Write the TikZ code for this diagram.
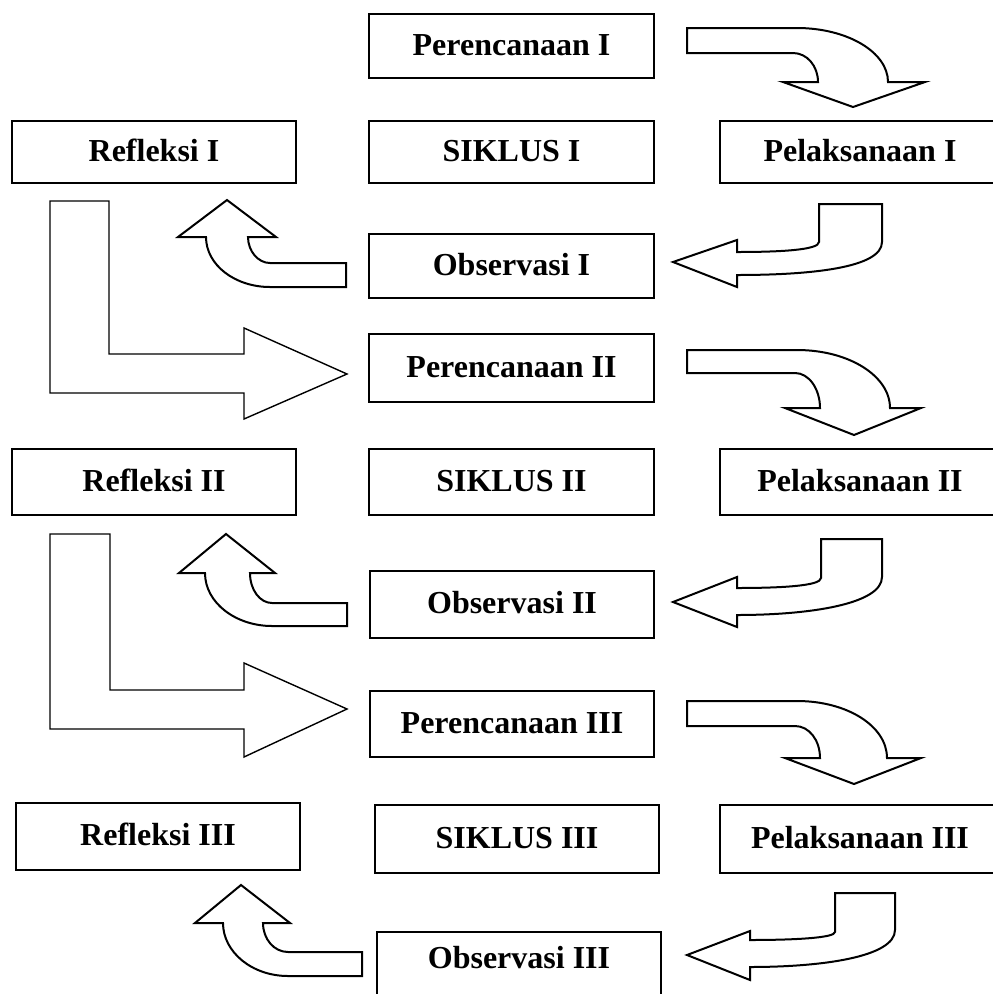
\documentclass[tikz,border=0pt]{standalone}
\usepackage{fontspec}
\setmainfont{Liberation Serif}
\begin{document}
\begin{tikzpicture}[x=1pt,y=-1pt,
  box/.style={draw=black, line width=2pt, inner sep=0pt, anchor=north west,
    font=\fontsize{32}{38}\selectfont\bfseries, text height=21pt, text depth=3pt, align=center},
  blockarrow/.style={draw=black, line width=2pt, fill=white, line join=miter},
  larrow/.style={draw=black, line width=1.4pt, fill=white, line join=miter}]
\useasboundingbox (0,0) rectangle (993,994);
\clip (0,0) rectangle (993,994);
\fill[white] (0,0) rectangle (993,994);

% ---------- Cycle I ----------
\node[box, minimum width=285pt, minimum height=64pt] (per1) at (368,13) {Perencanaan I};
\node[box, minimum width=284pt, minimum height=62pt] (ref1) at (11,120) {Refleksi I};
\node[box, minimum width=285pt, minimum height=62pt] (sik1) at (368,120) {SIKLUS I};
\node[box, minimum width=280pt, minimum height=62pt] (pel1) at (719,120) {Pelaksanaan I};
\node[box, minimum width=285pt, minimum height=64pt] (obs1) at (368,233) {Observasi I};

% down-curved arrow (Perencanaan -> Pelaksanaan)
\draw[blockarrow] (687,28) -- (797,28) .. controls (847,28) and (888,52) .. (888,82)
  -- (925,82) -- (853,107) -- (783,82) -- (818,82)
  .. controls (818,66) and (807,53) .. (793,53) -- (687,53) -- cycle;
% left arrow (Pelaksanaan -> Observasi)
\draw[blockarrow] (819,204) -- (882,204) -- (882,242)
  .. controls (882,268) and (810,275) .. (737,275) -- (737,287) -- (673,262)
  -- (737,240) -- (737,252) .. controls (780,252) and (819,250) .. (819,242) -- cycle;
% up-left arrow (Observasi -> Refleksi)
\draw[blockarrow] (346,263) -- (270,263) .. controls (258,263) and (248,251) .. (248,237)
  -- (276,237) -- (227,200) -- (178,237) -- (206,237)
  .. controls (206,265) and (235,287) .. (270,287) -- (346,287) -- cycle;
% L arrow (Refleksi -> next Perencanaan)
\draw[larrow] (50,201) -- (109,201) -- (109,354) -- (244,354) -- (244,328)
  -- (347,374) -- (244,419) -- (244,393) -- (50,393) -- cycle;

% ---------- Cycle II ----------
\node[box, minimum width=285pt, minimum height=68pt] (per2) at (368,333) {Perencanaan II};
\node[box, minimum width=284pt, minimum height=66pt] (ref2) at (11,448) {Refleksi II};
\node[box, minimum width=285pt, minimum height=66pt] (sik2) at (368,448) {SIKLUS II};
\node[box, minimum width=280pt, minimum height=66pt] (pel2) at (719,448) {Pelaksanaan II};
\node[box, minimum width=284pt, minimum height=67pt] (obs2) at (369,570) {Observasi II};

\draw[blockarrow] (687,350) -- (797,350) .. controls (849,350) and (890,376) .. (890,408)
  -- (921,408) -- (854,435) -- (785,408) -- (820,408)
  .. controls (820,389) and (809,373) .. (795,373) -- (687,373) -- cycle;
\draw[blockarrow] (821,539) -- (882,539) -- (882,577)
  .. controls (882,604) and (810,615) .. (737,615) -- (737,627) -- (673,602)
  -- (737,577) -- (737,588) .. controls (780,588) and (821,586) .. (821,578) -- cycle;
\draw[blockarrow] (347,603) -- (272,603) .. controls (260,603) and (250,590) .. (250,573)
  -- (275,573) -- (226,534) -- (179,573) -- (205,573)
  .. controls (205,603) and (236,626) .. (272,626) -- (347,626) -- cycle;
\draw[larrow] (50,534) -- (110,534) -- (110,690) -- (244,690) -- (244,663)
  -- (347,709) -- (244,757) -- (244,729) -- (50,729) -- cycle;

% ---------- Cycle III ----------
\node[box, minimum width=284pt, minimum height=66pt] (per3) at (369,690) {Perencanaan III};
\node[box, minimum width=284pt, minimum height=67pt] (ref3) at (15,802) {Refleksi III};
\node[box, minimum width=284pt, minimum height=68pt] (sik3) at (374,804) {SIKLUS III};
\node[box, minimum width=280pt, minimum height=68pt] (pel3) at (719,804) {Pelaksanaan III};
\node[box, minimum width=284pt, minimum height=66pt, text depth=14pt] (obs3) at (376,931) {Observasi III};

\draw[blockarrow] (687,701) -- (797,701) .. controls (847,701) and (887,726) .. (887,758)
  -- (921,758) -- (854,784) -- (785,758) -- (820,758)
  .. controls (820,740) and (809,726) .. (795,726) -- (687,726) -- cycle;
\draw[blockarrow] (835,893) -- (895,893) -- (895,930)
  .. controls (895,957) and (822,967) .. (750,967) -- (750,980) -- (687,955)
  -- (750,931) -- (750,940) .. controls (793,940) and (835,938) .. (835,932) -- cycle;
\draw[blockarrow] (362,952) -- (288,952) .. controls (274,952) and (263,939) .. (263,923)
  -- (290,923) -- (241,885) -- (195,923) -- (223,923)
  .. controls (223,952) and (252,976) .. (288,976) -- (362,976) -- cycle;
\end{tikzpicture}
\end{document}
